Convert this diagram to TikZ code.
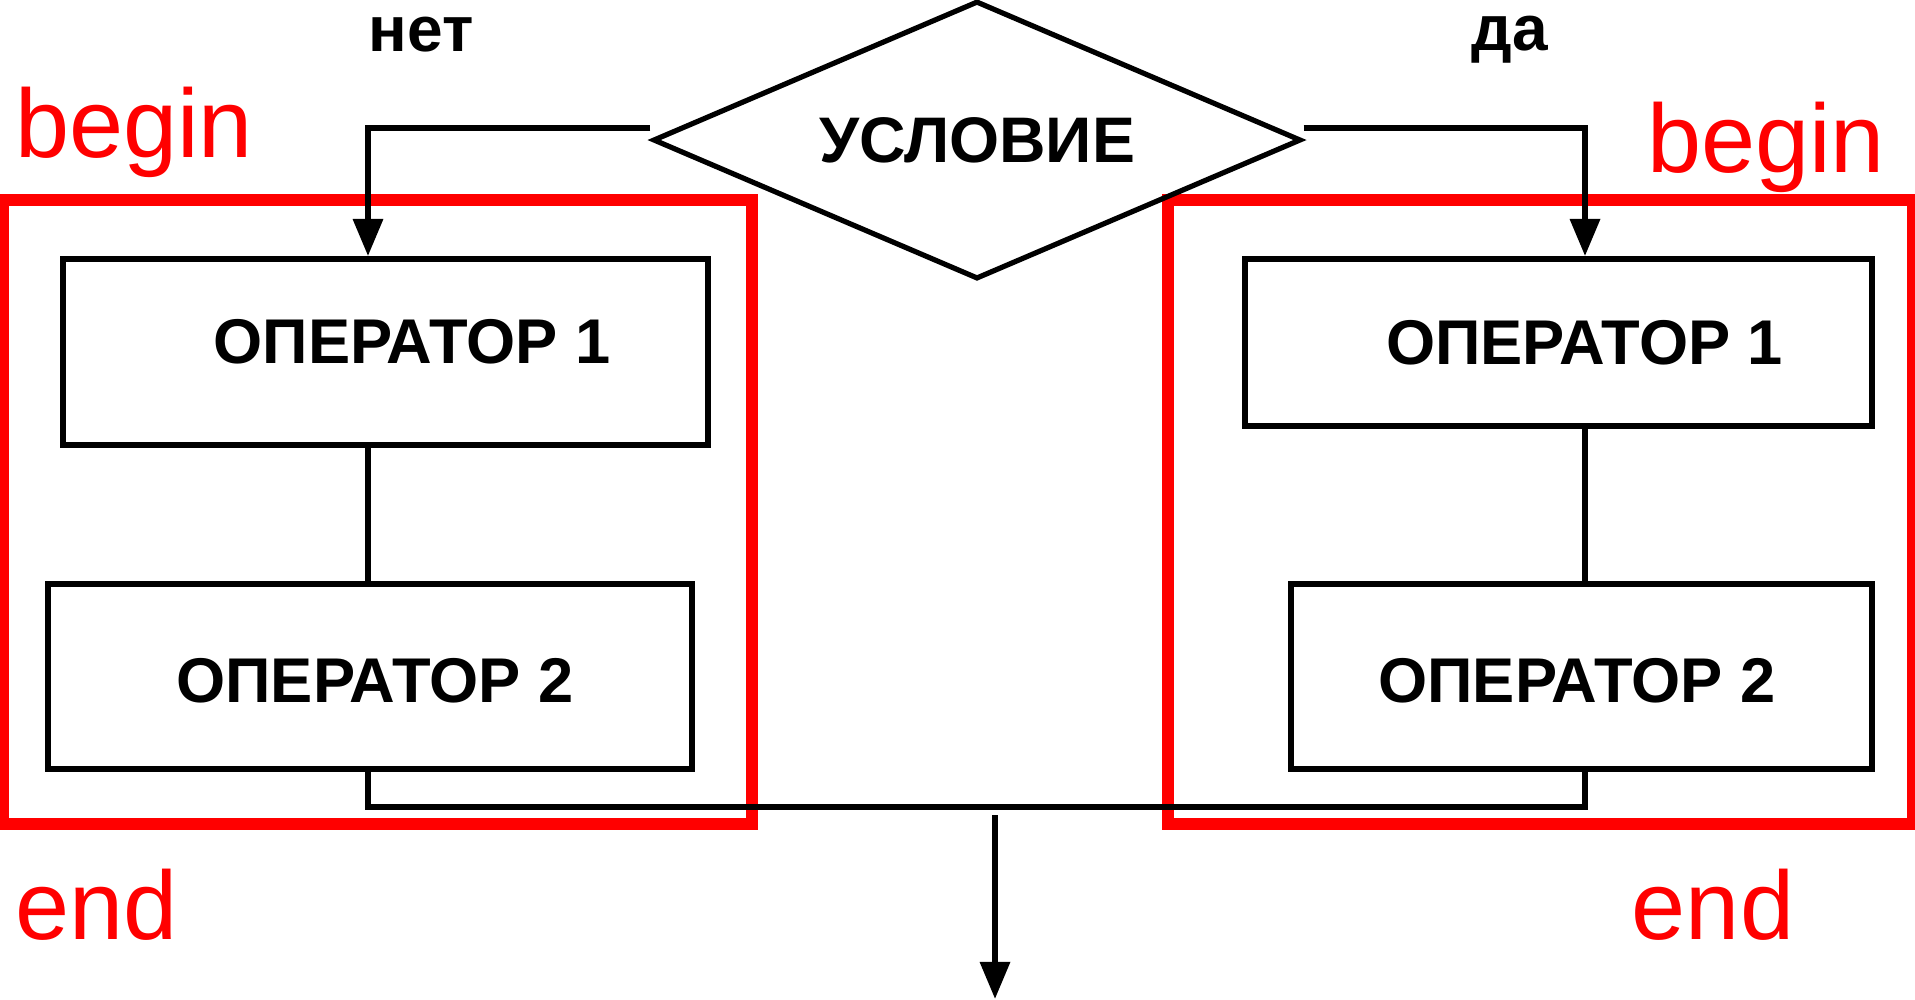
\documentclass[tikz,border=0pt]{standalone}
\usepackage{fontspec}
\setmainfont{Liberation Sans}
\usetikzlibrary{arrows.meta,shapes.geometric}

\begin{document}
\begin{tikzpicture}[x=0.25pt,y=-0.25pt,
  block/.style={draw,line width=1.45pt,inner sep=0pt},
  boxtext/.style={inner sep=0pt,font=\fontsize{15.8}{19}\selectfont\bfseries},
  answer/.style={inner sep=0pt,anchor=base,font=\fontsize{16}{19}\selectfont\bfseries},
  redtext/.style={red,inner sep=0pt,anchor=base,font=\fontsize{24.3}{29}\selectfont},
  frame/.style={red,line width=3pt},
  link/.style={line width=1.5pt},
  flow/.style={line width=1.5pt,-{Triangle[length=9.3pt,width=7.3pt]}}]
  \useasboundingbox (0,0) rectangle (1915,999);

  \draw[frame] (3,200) rectangle (752,824);
  \draw[frame] (1168,200) rectangle (1913,824);

  \node[draw,shape=diamond,shape aspect=2.3,minimum width=162pt,minimum height=69.5pt,line width=1.3pt,inner sep=0pt,font=\fontsize{16.1}{19}\selectfont\bfseries] (cond) at (977,140) {УСЛОВИЕ};
  \node[block,minimum width=161.25pt,minimum height=46.5pt,label={[boxtext,xshift=6.6pt,yshift=2.5pt]center:ОПЕРАТОР 1}] (op1l) at (385.5,352) {};
  \node[block,minimum width=161pt,minimum height=46.25pt,label={[boxtext,xshift=1.2pt,yshift=-1pt]center:ОПЕРАТОР 2}] (op2l) at (370,676.5) {};
  \node[block,minimum width=156.75pt,minimum height=41.75pt,label={[boxtext,xshift=6.5pt]center:ОПЕРАТОР 1}] (op1r) at (1558.5,342.5) {};
  \node[block,minimum width=145.25pt,minimum height=46.25pt,label={[boxtext,xshift=-1.2pt,yshift=-1pt]center:ОПЕРАТОР 2}] (op2r) at (1581.5,676.5) {};

  \node[answer] (no) at (421,51) {нет};
  \node[answer] (yes) at (1510,50) {да};
  \node[redtext] (beginl) at (134,157) {begin};
  \node[redtext] (beginr) at (1766,172) {begin};
  \node[redtext] (endl) at (97,939) {end};
  \node[redtext] (endr) at (1713,939) {end};

  \coordinate (jl) at (368,128);
  \coordinate (jr) at (1585,128);
  \coordinate (merge) at (995,807);
  \coordinate (exit) at (995,999);

  \draw[flow] ([yshift=3pt]cond.west) -- (jl) -- (jl |- op1l.north);
  \draw[flow] ([yshift=3pt]cond.east) -- (jr) -- (jr |- op1r.north);
  \draw[link] (jl |- op1l.south) -- (jl |- op2l.north);
  \draw[link] (jr |- op1r.south) -- (jr |- op2r.north);
  \draw[link] (jl |- op2l.south) -- (jl |- merge) -- (jr |- merge) -- (jr |- op2r.south);
  \draw[flow] ([yshift=-2pt]merge) -- (exit);
\end{tikzpicture}
\end{document}
